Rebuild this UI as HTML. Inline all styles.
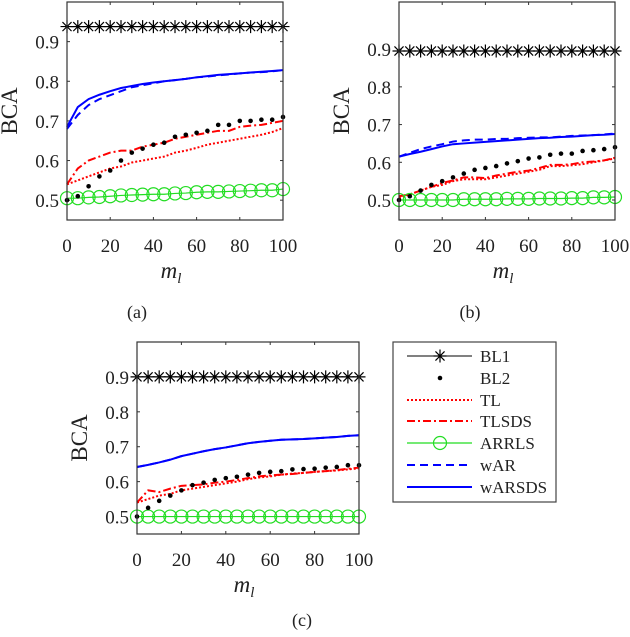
<!DOCTYPE html>
<html><head><meta charset="utf-8"><style>
body{margin:0;background:#fff;width:630px;height:632px;overflow:hidden}
svg text{font-family:"Liberation Serif",serif;fill:#222}
</style></head><body>
<svg id="fig" width="630" height="632" xmlns="http://www.w3.org/2000/svg"></svg>
<script>
const xs=[0,5,10,15,20,25,30,35,40,45,50,55,60,65,70,75,80,85,90,95,100];
const xTicks=[0,20,40,60,80,100];
const yTicks=[0.5,0.6,0.7,0.8,0.9];
const yTickLabels=["0.5","0.6","0.7","0.8","0.9"];
const aBL1=0.938;
const aBL2=[0.50,0.51,0.535,0.56,0.575,0.60,0.62,0.63,0.64,0.645,0.66,0.665,0.67,0.675,0.69,0.69,0.70,0.70,0.703,0.703,0.71];
const aTL=[0.54,0.55,0.56,0.57,0.58,0.585,0.595,0.60,0.605,0.61,0.62,0.625,0.632,0.64,0.645,0.65,0.655,0.66,0.665,0.672,0.682];
const aTLSDS=[0.54,0.58,0.60,0.61,0.62,0.625,0.625,0.635,0.64,0.645,0.655,0.66,0.665,0.67,0.675,0.675,0.685,0.688,0.69,0.695,0.70];
const aARRLS=[0.505,0.505,0.507,0.508,0.51,0.512,0.513,0.514,0.515,0.515,0.517,0.518,0.52,0.521,0.521,0.522,0.523,0.524,0.525,0.525,0.528];
const aWAR=[0.68,0.715,0.74,0.755,0.765,0.775,0.785,0.79,0.795,0.80,0.803,0.806,0.81,0.812,0.815,0.817,0.82,0.822,0.823,0.825,0.828];
const aWARSDS=[0.685,0.735,0.755,0.766,0.775,0.783,0.788,0.793,0.797,0.80,0.803,0.806,0.81,0.813,0.816,0.818,0.82,0.822,0.824,0.826,0.828];
const bBL1=0.895;
const bBL2=[0.50,0.51,0.525,0.54,0.55,0.56,0.57,0.58,0.585,0.59,0.597,0.603,0.61,0.613,0.62,0.623,0.623,0.63,0.632,0.635,0.64];
const bTL=[0.505,0.515,0.525,0.535,0.54,0.55,0.555,0.555,0.555,0.56,0.565,0.57,0.575,0.58,0.59,0.59,0.592,0.595,0.60,0.605,0.61];
const bTLSDS=[0.51,0.515,0.525,0.535,0.545,0.552,0.56,0.56,0.558,0.565,0.57,0.575,0.578,0.585,0.593,0.593,0.595,0.60,0.602,0.605,0.612];
const bARRLS=[0.50,0.50,0.50,0.50,0.50,0.50,0.502,0.502,0.502,0.502,0.503,0.503,0.503,0.504,0.504,0.504,0.505,0.505,0.507,0.507,0.508];
const bWAR=[0.615,0.625,0.635,0.642,0.648,0.655,0.658,0.66,0.66,0.662,0.662,0.664,0.665,0.666,0.666,0.668,0.67,0.671,0.672,0.674,0.676];
const bWARSDS=[0.615,0.622,0.628,0.635,0.642,0.648,0.65,0.652,0.654,0.656,0.658,0.66,0.662,0.664,0.665,0.667,0.668,0.67,0.672,0.673,0.675];
const cBL1=0.90;
const cBL2=[0.50,0.525,0.545,0.56,0.575,0.59,0.597,0.605,0.61,0.614,0.62,0.625,0.628,0.63,0.635,0.636,0.637,0.64,0.642,0.647,0.647];
const cTL=[0.54,0.55,0.56,0.565,0.575,0.58,0.585,0.59,0.595,0.60,0.607,0.612,0.615,0.62,0.623,0.625,0.628,0.63,0.632,0.635,0.638];
const cTLSDS=[0.54,0.575,0.57,0.58,0.588,0.59,0.592,0.597,0.60,0.605,0.61,0.615,0.618,0.62,0.622,0.625,0.628,0.63,0.633,0.637,0.64];
const cARRLS=[0.50,0.50,0.50,0.50,0.50,0.50,0.50,0.50,0.50,0.50,0.50,0.50,0.50,0.50,0.50,0.50,0.50,0.50,0.50,0.50,0.50];
const cWAR=[0.642,0.648,0.655,0.663,0.673,0.68,0.687,0.693,0.698,0.704,0.71,0.714,0.717,0.72,0.721,0.722,0.724,0.726,0.728,0.731,0.733];
const cWARSDS=[0.642,0.648,0.655,0.663,0.673,0.68,0.687,0.693,0.698,0.704,0.71,0.714,0.717,0.72,0.721,0.722,0.724,0.726,0.728,0.731,0.733];

const NS="http://www.w3.org/2000/svg";
const svg=document.getElementById('fig');
function mk(tag,attrs,parent){const e=document.createElementNS(NS,tag);for(const k in attrs)e.setAttribute(k,attrs[k]);(parent||svg).appendChild(e);return e;}
function star(g,x,y,r){const d=`M${x-r},${y}H${x+r}M${x},${y-r}V${y+r}M${x-r*0.7},${y-r*0.7}L${x+r*0.7},${y+r*0.7}M${x-r*0.7},${y+r*0.7}L${x+r*0.7},${y-r*0.7}`;const p=mk('path',{d:d,stroke:'#000','stroke-width':1.2,fill:'none'},g);}

function panel(id,L,R,T,B,ymin,ymax,label,lx,ly,bl1,bl2,tl,tlsds,arr,war,warsds){
  const g=mk('g',{});
  
  
  const X=v=>L+(v-0)/(100-0)*(R-L);
  const Y=v=>B-(v-ymin)/(ymax-ymin)*(B-T);
  xTicks.forEach(t=>{
    mk('line',{x1:X(t),x2:X(t),y1:B,y2:B-3,stroke:'#333'},g);mk('line',{x1:X(t),x2:X(t),y1:T,y2:T+3,stroke:'#333'},g);
    const tx=mk('text',{x:X(t),y:B+32,'text-anchor':'middle','font-size':19},g);tx.textContent=t;
    
  });
  yTicks.forEach((t,i)=>{
    mk('line',{x1:L,x2:L+3,y1:Y(t),y2:Y(t),stroke:'#333'},g);mk('line',{x1:R,x2:R-3,y1:Y(t),y2:Y(t),stroke:'#333'},g);
    const ty=mk('text',{x:L-8,y:Y(t)+7,'text-anchor':'end','font-size':19},g);ty.textContent=yTickLabels[i];
    
  });
  const yl=mk('text',{x:0,y:0,'text-anchor':'middle','font-size':23,transform:`translate(${L-50},${(T+B)/2}) rotate(-90)`},g);yl.textContent='BCA';
  
  const xl=mk('text',{x:(L+R)/2-4,y:B+58,'text-anchor':'middle','font-size':23,'font-style':'italic'},g);xl.innerHTML='m<tspan font-size="15" dy="5">l</tspan>';
  
  const pl=mk('text',{x:lx,y:ly,'text-anchor':'middle','font-size':18},g);pl.textContent=label;
  
  const pts=a=>a.map((v,i)=>X(xs[i])+','+Y(v)).join(' ');
  function line(a,color,dash,name,w){const p=mk('polyline',{points:pts(a),fill:'none',stroke:color,'stroke-width':w||2,'stroke-dasharray':dash||'none'},g);}
  line(tl,'#f00','2,2','tl-line');
  line(tlsds,'#f00','8,3,2,3','tlsds-line');
  line(war,'#00f','8,5','war-line');
  line(warsds,'#00f','','warsds-line');
  line(arr,'#2d2','','arrls-line',1.2);
  arr.forEach((v,i)=>{const c=mk('circle',{cx:X(xs[i]),cy:Y(v),r:6.5,fill:'none',stroke:'#2d2','stroke-width':1.2},g);});
  bl2.forEach((v,i)=>{const c=mk('circle',{cx:X(xs[i]),cy:Y(v),r:2.3,fill:'#000'},g);});
  const bl=xs.map(()=>bl1);
  line(bl,'#000','','bl1-line',1);
  bl.forEach((v,i)=>star(g,X(xs[i]),Y(v),6.5));
  const box=mk('rect',{x:L,y:T,width:R-L,height:B-T,fill:'none',stroke:'#333','stroke-width':1.2},g);
  
}
panel('a',67,283,2,220,0.45,1.0,'(a)',137,318,aBL1,aBL2,aTL,aTLSDS,aARRLS,aWAR,aWARSDS);
panel('b',399,615,2,220,0.447,1.025,'(b)',470,318,bBL1,bBL2,bTL,bTLSDS,bARRLS,bWAR,bWARSDS);
panel('c',137,359,342,534,0.45,1.0,'(c)',302,626,cBL1,cBL2,cTL,cTLSDS,cARRLS,cWAR,cWARSDS);

const lg=mk('g',{});


mk('rect',{x:393,y:342,width:163,height:160,fill:'#fff',stroke:'#444','stroke-width':1.2},lg);
const names=["BL1","BL2","TL","TLSDS","ARRLS","wAR","wARSDS"];
const rows=[356,378,400,421,443,465,487];
names.forEach((n,i)=>{
  const y=rows[i];
  const e=mk('g',{},lg);
  
  
  if(n==="BL1"){mk('line',{x1:407,x2:472,y1:y,y2:y,stroke:'#000'},e);star(e,440,y,6.5);}
  if(n==="BL2"){mk('circle',{cx:440,cy:y,r:2.3,fill:'#000'},e);}
  if(n==="TL")mk('line',{x1:407,x2:472,y1:y,y2:y,stroke:'#f00','stroke-width':2,'stroke-dasharray':'2,2'},e);
  if(n==="TLSDS")mk('line',{x1:407,x2:472,y1:y,y2:y,stroke:'#f00','stroke-width':2,'stroke-dasharray':'8,3,2,3'},e);
  if(n==="ARRLS"){mk('line',{x1:407,x2:472,y1:y,y2:y,stroke:'#2d2','stroke-width':1.2},e);mk('circle',{cx:440,cy:y,r:6.5,fill:'none',stroke:'#2d2','stroke-width':1.2},e);}
  if(n==="wAR")mk('line',{x1:407,x2:472,y1:y,y2:y,stroke:'#00f','stroke-width':2,'stroke-dasharray':'8,5'},e);
  if(n==="wARSDS")mk('line',{x1:407,x2:472,y1:y,y2:y,stroke:'#00f','stroke-width':2},e);
  const t=mk('text',{x:480,y:y+6,'font-size':17},e);t.textContent=n;
});
</script>
</body></html>
